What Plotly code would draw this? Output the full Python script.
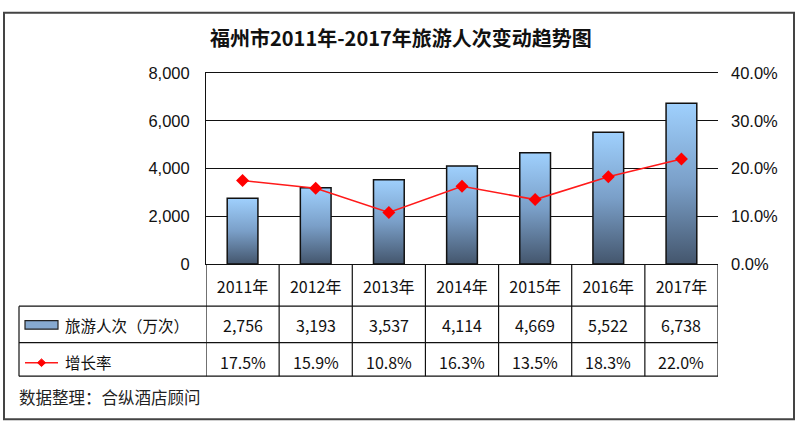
import plotly.graph_objects as go

## Data
years = ["2011年", "2012年", "2013年", "2014年", "2015年", "2016年", "2017年"]
visitors = [2756, 3193, 3537, 4114, 4669, 5522, 6738]  # 万次
growth = [17.5, 15.9, 10.8, 16.3, 13.5, 18.3, 22.0]    # %

title = "福州市2011年-2017年旅游人次变动趋势图"
bar_name = "旅游人次（万次）"
line_name = "增长率"
source = "数据整理：合纵酒店顾问"

## Layout helpers (pixel -> paper)
W, H = 800, 435
def px(x):
    return x / W
def py(y):
    return 1 - y / H

cjk = "Noto Sans CJK SC"
arial = "Liberation Sans, Arial"
bar_half = 0.21
grad = [[0, "#44566d"], [0.5, "#7a9fc8"], [1, "#9fd0fd"]]

fig = go.Figure()

# bars drawn as filled polygons so they can carry a vertical gradient
for i, v in enumerate(visitors):
    fig.add_trace(go.Scatter(
        x=[i - bar_half, i - bar_half, i + bar_half, i + bar_half, i - bar_half],
        y=[0, v, v, 0, 0],
        mode="lines", fill="toself",
        fillgradient=dict(type="vertical", colorscale=grad),
        line=dict(color="#111111", width=1.5),
        showlegend=False, hoverinfo="skip",
    ))

fig.add_trace(go.Scatter(
    x=list(range(len(years))), y=[g / 100 for g in growth], yaxis="y2",
    mode="lines+markers", name=line_name,
    line=dict(color="#ff1a1a", width=1.6),
    marker=dict(symbol="diamond", size=10, color="#ff0000"),
    showlegend=False,
))

shapes = []
line_k = dict(color="#111111", width=1.2)
# outer frame
shapes.append(dict(type="rect", xref="paper", yref="paper",
                   x0=px(4), x1=px(794), y0=py(428), y1=py(4),
                   line=dict(color="#444444", width=2)))
# table: column separators
for i in range(len(years) + 1):
    shapes.append(dict(type="line", xref="x", yref="paper",
                       x0=i - 0.5, x1=i - 0.5, y0=py(383), y1=py(266), line=line_k))
# table: horizontal rules and legend column
for yy in (310, 348, 383):
    shapes.append(dict(type="line", xref="paper", yref="paper",
                       x0=px(19), x1=px(718), y0=py(yy), y1=py(yy), line=line_k))
shapes.append(dict(type="line", xref="paper", yref="paper",
                   x0=px(19), x1=px(19), y0=py(383), y1=py(310), line=line_k))
# legend icons
shapes.append(dict(type="rect", xref="paper", yref="paper",
                   x0=px(25), x1=px(58), y0=py(334), y1=py(325),
                   fillcolor="#86a9d0", line=dict(color="#222222", width=1.2)))
shapes.append(dict(type="line", xref="paper", yref="paper",
                   x0=px(25), x1=px(58), y0=py(369), y1=py(369),
                   line=dict(color="#ff1a1a", width=1.5)))
shapes.append(dict(type="path", xref="paper", yref="paper",
                   path=f"M {px(41.5)},{py(365)} L {px(45.5)},{py(369)} L {px(41.5)},{py(373)} L {px(37.5)},{py(369)} Z",
                   fillcolor="#ff0000", line=dict(color="#ff0000", width=1)))

def note(x, y, text, xref="paper", xanchor="center", size=16, color="#111111"):
    return dict(x=x, y=y, xref=xref, yref="paper", text=text, showarrow=False,
                xanchor=xanchor, yanchor="middle",
                font=dict(family=cjk, size=size, color=color))

annotations = []
for i, (v, g) in enumerate(zip(visitors, growth)):
    annotations.append(note(i, py(330), f"{v:,}", xref="x"))
    annotations.append(note(i, py(368), f"{g:.1f}%", xref="x"))
annotations += [
    note(px(63), py(330), bar_name, xanchor="left", size=15.5),
    note(px(63), py(368), line_name, xanchor="left", size=15.5),
    note(px(17), py(405), source, xanchor="left", size=16.5, color="#222222"),
    note(px(401), py(30), f"<b>{title}</b>", size=20),
]

fig.update_layout(
    width=W, height=H,
    margin=dict(l=0, r=0, t=0, b=0),
    paper_bgcolor="white", plot_bgcolor="white",
    showlegend=False,
    shapes=shapes, annotations=annotations,
    xaxis=dict(domain=[px(206), px(718)], range=[-0.5, len(years) - 0.5],
               tickvals=list(range(len(years))), ticktext=years,
               showgrid=False, zeroline=False, showline=True, linecolor="#111111",
               mirror=True, ticks="", ticklabelstandoff=9,
               tickfont=dict(family=cjk, size=16, color="#111111")),
    yaxis=dict(domain=[py(266), py(67)], range=[0, 8000], dtick=2000,
               tickformat=",d", showgrid=True, gridcolor="#111111", gridwidth=1,
               zeroline=False, showline=True, linecolor="#111111", ticks="",
               ticklabelstandoff=12,
               tickfont=dict(family=arial, size=16.5, color="#111111")),
    yaxis2=dict(overlaying="y", side="right", range=[0, 0.4], dtick=0.1,
                tickformat=".1%", showgrid=False, zeroline=False, ticks="",
                ticklabelstandoff=12,
                tickfont=dict(family=arial, size=16.5, color="#111111")),
)

# drop the browser's default page margin so the figure sits at the window origin
fig.write_html("out.html", config={"displayModeBar": False},
               post_script="document.body.style.margin='0';")
